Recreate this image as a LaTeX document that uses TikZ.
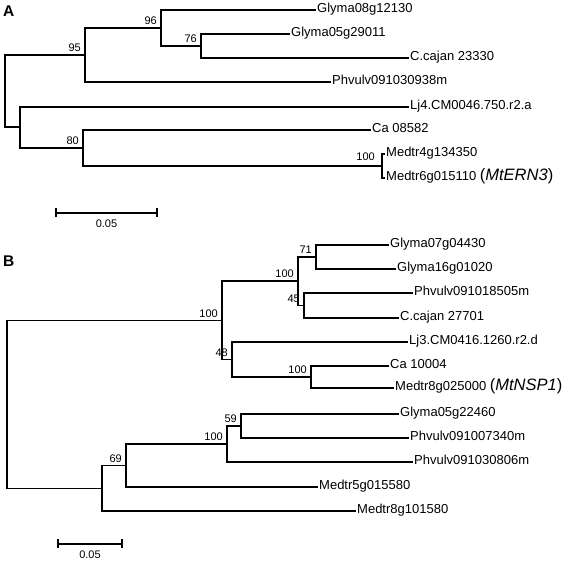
\documentclass[tikz,border=0pt]{standalone}
\usepackage{fontspec}
\setmainfont{Liberation Sans}
\usepackage{tikz}
\usetikzlibrary{arrows.meta}
\tikzset{
    branch/.style={line width=1.8pt, line join=miter, line cap=rect},
    leaf/.style={
        anchor=west,
        inner sep=2pt,
        text height=9pt,
        text depth=3pt,
        font=\fontsize{13}{15}\selectfont
    },
    boot/.style={anchor=base east, inner sep=0pt, xshift=-4pt, yshift=3pt, font=\fontsize{11}{12}\selectfont},
    panel/.style={anchor=north west, inner sep=0pt, font=\fontsize{15.5}{18}\selectfont\bfseries},
    scalebar/.style={line width=1.8pt, {Bar[width=9pt]}-{Bar[width=9pt]}},
    scaletext/.style={anchor=north, inner sep=0pt, font=\fontsize{11}{12}\selectfont}
}

\begin{document}
\begin{tikzpicture}[x=1pt, y=-1pt]
    \useasboundingbox (0,0) rectangle (574,564);

    \node[panel] (labA) at (3,6) {A};
    \coordinate (rootA) at (5,91);
    \coordinate (n95) at (85,55);
    \coordinate (n96) at (161,28);
    \coordinate (n76) at (201,46);
    \coordinate (nA2) at (20,127);
    \coordinate (n80) at (83,148);
    \coordinate (nMt) at (382,166);

    \node[leaf] (glyma08) at (315,10) {Glyma08g12130};
    \node[leaf] (glyma05a) at (289,34) {Glyma05g29011};
    \node[leaf] (cajanA) at (408,58) {C.cajan 23330};
    \node[leaf] (phvA) at (330,82) {Phvulv091030938m};
    \node[leaf] (lj4) at (408,107) {Lj4.CM0046.750.r2.a};
    \node[leaf] (caA) at (370,130) {Ca 08582};
    \node[leaf] (medtr4) at (384,154) {Medtr4g134350};
    \node[leaf] (medtr6) at (384,178) {Medtr6g015110 {\fontsize{16.5}{18}\selectfont(\textit{MtERN3})}};

    \draw[branch] (rootA) |- (n95);
    \draw[branch] (rootA) |- (nA2);
    \draw[branch] (n95) |- (n96);
    \draw[branch] (n95) |- (phvA);
    \draw[branch] (n96) |- (glyma08);
    \draw[branch] (n96) |- (n76);
    \draw[branch] (n76) |- (glyma05a);
    \draw[branch] (n76) |- (cajanA);
    \draw[branch] (nA2) |- (lj4);
    \draw[branch] (nA2) |- (n80);
    \draw[branch] (n80) |- (caA);
    \draw[branch] (n80) |- (nMt);
    \draw[branch] (nMt) |- (medtr4);
    \draw[branch] (nMt) |- (medtr6);

    \node[boot] (b95) at (n95) {95};
    \node[boot] (b96) at (n96) {96};
    \node[boot] (b76) at (n76) {76};
    \node[boot] (b80) at (n80) {80};
    \node[boot, xshift=-3pt, yshift=2pt] (bMt) at (nMt) {100};

    \coordinate (sA1) at (55,213);
    \coordinate (sA2) at (158,213);
    \draw[scalebar] (sA1) -- (sA2);
    \node[scaletext] (sAtext) at (106.5,220) {0.05};

    \node[panel] (labB) at (3,256) {B};
    \coordinate (rootB) at (7,404.5);
    \coordinate (nB1) at (222,320.5);
    \coordinate (nB2) at (298,281);
    \coordinate (nB3) at (316,257);
    \coordinate (nB4) at (304,305.5);
    \coordinate (nB5) at (232,359.5);
    \coordinate (nB6) at (311,377);
    \coordinate (nB7) at (102,488.5);
    \coordinate (nB8) at (126,465.5);
    \coordinate (nB9) at (227,444);
    \coordinate (nB10) at (241,426);

    \node[leaf] (glyma07) at (388,245) {Glyma07g04430};
    \node[leaf] (glyma16) at (395,269) {Glyma16g01020};
    \node[leaf] (phvB1) at (412,293) {Phvulv091018505m};
    \node[leaf] (cajanB) at (398,318) {C.cajan 27701};
    \node[leaf] (lj3) at (407,342) {Lj3.CM0416.1260.r2.d};
    \node[leaf] (caB) at (388,366) {Ca 10004};
    \node[leaf] (medtr8a) at (393,388) {Medtr8g025000 {\fontsize{16.5}{18}\selectfont(\textit{MtNSP1})}};
    \node[leaf] (glyma05b) at (398,414) {Glyma05g22460};
    \node[leaf] (phvB2) at (408,438) {Phvulv091007340m};
    \node[leaf] (phvB3) at (412,462) {Phvulv091030806m};
    \node[leaf] (medtr5) at (317,487) {Medtr5g015580};
    \node[leaf] (medtr8b) at (355,511) {Medtr8g101580};

    \draw[branch] (rootB) |- (nB1);
    \draw[branch] (rootB) |- (nB7);
    \draw[branch] (nB1) |- (nB2);
    \draw[branch] (nB1) |- (nB5);
    \draw[branch] (nB2) |- (nB3);
    \draw[branch] (nB2) |- (nB4);
    \draw[branch] (nB3) |- (glyma07);
    \draw[branch] (nB3) |- (glyma16);
    \draw[branch] (nB4) |- (phvB1);
    \draw[branch] (nB4) |- (cajanB);
    \draw[branch] (nB5) |- (lj3);
    \draw[branch] (nB5) |- (nB6);
    \draw[branch] (nB6) |- (caB);
    \draw[branch] (nB6) |- (medtr8a);
    \draw[branch] (nB7) |- (nB8);
    \draw[branch] (nB7) |- (medtr8b);
    \draw[branch] (nB8) |- (nB9);
    \draw[branch] (nB8) |- (medtr5);
    \draw[branch] (nB9) |- (nB10);
    \draw[branch] (nB9) |- (phvB3);
    \draw[branch] (nB10) |- (glyma05b);
    \draw[branch] (nB10) |- (phvB2);

    \node[boot] (bB1) at (nB1) {100};
    \node[boot] (bB2) at (nB2) {100};
    \node[boot] (bB3) at (nB3) {71};
    \node[boot] (bB4) at (nB4) {45};
    \node[boot] (bB5) at (nB5) {48};
    \node[boot] (bB6) at (nB6) {100};
    \node[boot] (bB8) at (nB8) {69};
    \node[boot] (bB9) at (nB9) {100};
    \node[boot] (bB10) at (nB10) {59};

    \coordinate (sB1) at (57,544);
    \coordinate (sB2) at (123,544);
    \draw[scalebar] (sB1) -- (sB2);
    \node[scaletext] (sBtext) at (90,551) {0.05};
\end{tikzpicture}
\end{document}
